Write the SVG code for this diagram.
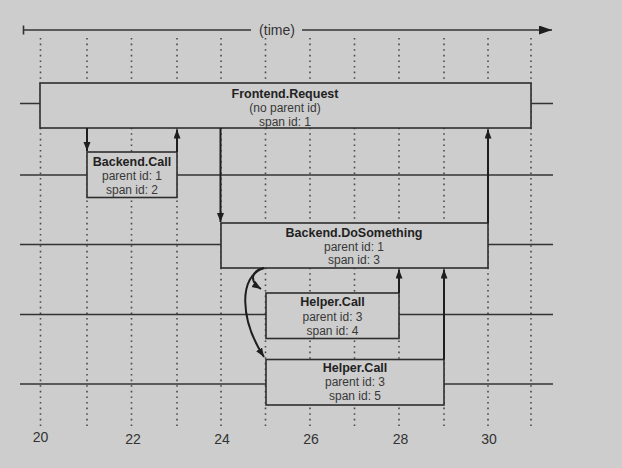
<svg xmlns="http://www.w3.org/2000/svg" width="622" height="468" viewBox="0 0 622 468">
  <defs>
    <marker id="arr" markerUnits="userSpaceOnUse" markerWidth="10" markerHeight="8" refX="9" refY="3.5" orient="auto">
      <path d="M0,0 L9,3.5 L0,7 z" fill="#1e1e1e"/>
    </marker>
    <marker id="timeArr" markerUnits="userSpaceOnUse" markerWidth="14" markerHeight="10" refX="13" refY="4.5" orient="auto">
      <path d="M0,0 L13,4.5 L0,9 z" fill="#1e1e1e"/>
    </marker>
  </defs>
  <style>
    .bg { fill: #cdcdcd; }
    .dot { stroke: #4a4a4a; stroke-width: 1.6; stroke-dasharray: 1.6 4; fill: none; }
    .row { stroke: #333; stroke-width: 1.4; fill: none; }
    .box { fill: #cdcdcd; stroke: #2e2e2e; stroke-width: 1.6; }
    .title { font-family: "Liberation Sans", Arial, sans-serif; font-size: 12.5px; font-weight: bold; fill: #222; text-anchor: middle; }
    .sub { font-family: "Liberation Sans", Arial, sans-serif; font-size: 12px; fill: #383838; text-anchor: middle; }
    .axis { font-family: "Liberation Sans", Arial, sans-serif; font-size: 14px; fill: #333; text-anchor: middle; }
    .conn { stroke: #1e1e1e; stroke-width: 2; fill: none; marker-end: url(#arr); }
    .time { stroke: #333; stroke-width: 1.6; fill: none; }
  </style>

  <rect class="bg" x="0" y="0" width="622" height="468"/>

  <g id="timeline">
    <line class="time" x1="23.5" y1="25.5" x2="23.5" y2="34.5"/>
    <line class="time" x1="23.5" y1="30" x2="251" y2="30"/>
    <line class="time" x1="302" y1="30" x2="552" y2="30" marker-end="url(#timeArr)"/>
    <text class="axis" x="277" y="35">(time)</text>
  </g>

  <g id="gridlines">
    <line class="dot" x1="40.5" y1="38" x2="40.5" y2="426"/>
    <line class="dot" x1="87" y1="38" x2="87" y2="426"/>
    <line class="dot" x1="131.5" y1="38" x2="131.5" y2="426"/>
    <line class="dot" x1="177" y1="38" x2="177" y2="426"/>
    <line class="dot" x1="221" y1="38" x2="221" y2="426"/>
    <line class="dot" x1="265.5" y1="38" x2="265.5" y2="426"/>
    <line class="dot" x1="310" y1="38" x2="310" y2="426"/>
    <line class="dot" x1="354.5" y1="38" x2="354.5" y2="426"/>
    <line class="dot" x1="399" y1="38" x2="399" y2="426"/>
    <line class="dot" x1="444" y1="38" x2="444" y2="426"/>
    <line class="dot" x1="488" y1="38" x2="488" y2="426"/>
    <line class="dot" x1="531" y1="38" x2="531" y2="426"/>
  </g>

  <g id="rows">
    <line class="row" x1="20" y1="103.5" x2="553" y2="103.5"/>
    <line class="row" x1="20" y1="175" x2="553" y2="175"/>
    <line class="row" x1="20" y1="244.5" x2="553" y2="244.5"/>
    <line class="row" x1="20" y1="314.5" x2="553" y2="314.5"/>
    <line class="row" x1="20" y1="384" x2="553" y2="384"/>
  </g>

  <g id="axis-labels">
    <text class="axis" x="40.5" y="442">20</text>
    <text class="axis" x="133" y="444">22</text>
    <text class="axis" x="222" y="444">24</text>
    <text class="axis" x="311" y="444">26</text>
    <text class="axis" x="400.5" y="444">28</text>
    <text class="axis" x="489" y="444">30</text>
  </g>

  <g id="frontend-request">
    <rect class="box" x="40" y="83" width="491" height="45"/>
    <text class="title" x="285" y="98">Frontend.Request</text>
    <text class="sub" x="285" y="112">(no parent id)</text>
    <text class="sub" x="285" y="126">span id: 1</text>
  </g>

  <g id="backend-call">
    <rect class="box" x="87" y="152" width="90" height="45.5"/>
    <text class="title" x="132" y="165.5">Backend.Call</text>
    <text class="sub" x="132" y="180">parent id: 1</text>
    <text class="sub" x="132" y="194">span id: 2</text>
  </g>

  <g id="backend-dosomething">
    <rect class="box" x="221" y="223" width="267" height="45"/>
    <text class="title" x="354" y="237">Backend.DoSomething</text>
    <text class="sub" x="354" y="251">parent id: 1</text>
    <text class="sub" x="354" y="264">span id: 3</text>
  </g>

  <g id="helper-call-4">
    <rect class="box" x="266" y="293" width="133" height="45.5"/>
    <text class="title" x="332.5" y="306">Helper.Call</text>
    <text class="sub" x="332.5" y="320.5">parent id: 3</text>
    <text class="sub" x="332.5" y="335">span id: 4</text>
  </g>

  <g id="helper-call-5">
    <rect class="box" x="266" y="359.5" width="178" height="45.5"/>
    <text class="title" x="355" y="372">Helper.Call</text>
    <text class="sub" x="355" y="386">parent id: 3</text>
    <text class="sub" x="355" y="400">span id: 5</text>
  </g>

  <g id="connectors">
    <line class="conn" x1="87" y1="128" x2="87" y2="151"/>
    <line class="conn" x1="177" y1="152" x2="177" y2="129.5"/>
    <line class="conn" x1="220.5" y1="128" x2="220.5" y2="222"/>
    <line class="conn" x1="488" y1="223" x2="488" y2="129.5"/>
    <line class="conn" x1="399" y1="293" x2="399" y2="269.5"/>
    <line class="conn" x1="444" y1="359.5" x2="444" y2="269.5"/>
    <path class="conn" d="M264,268 C251,271 249,281 261,289"/>
    <path class="conn" d="M264,268 C238,276 240,320 264,357"/>
  </g>
</svg>
